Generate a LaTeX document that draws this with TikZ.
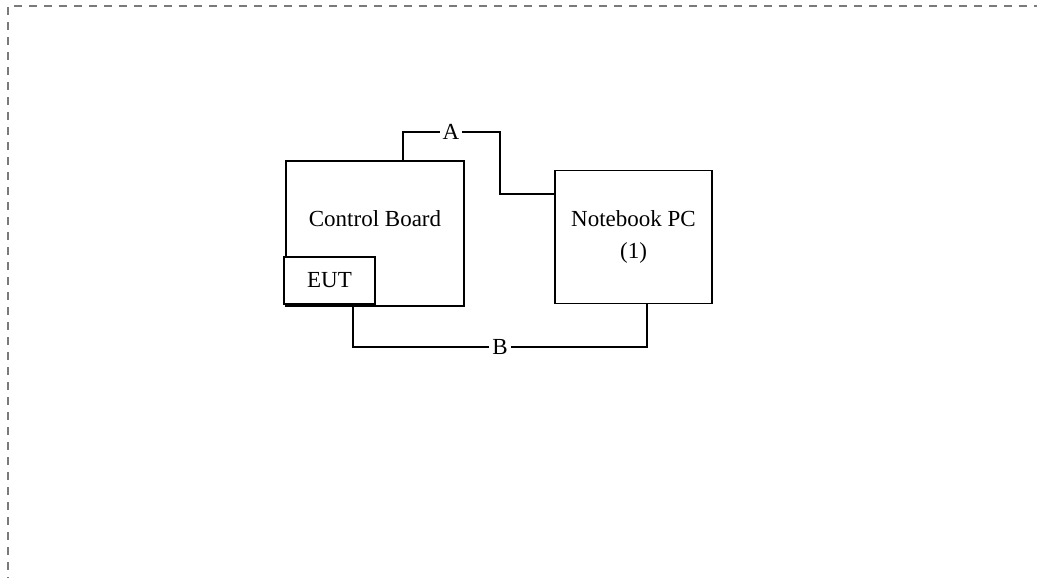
\documentclass[tikz,border=0pt]{standalone}
\usepackage{fontspec}
\setmainfont{Liberation Serif}
\usetikzlibrary{positioning}
\definecolor{framegray}{HTML}{7A7A7A}
\tikzset{
  unitbox/.style={draw,line width=1.8pt,fill=white,inner sep=0pt,align=center,font=\fontsize{23}{32}\selectfont},
  wire/.style={line width=1.8pt},
  cablelabel/.style={fill=white,inner sep=3pt,font=\fontsize{23}{28}\selectfont},
  frame/.style={framegray,line width=1.3pt,dash pattern=on 8pt off 7pt}
}
\begin{document}
\begin{tikzpicture}[x=1pt,y=-1pt]
\useasboundingbox (0,0) rectangle (1037,578);
\draw[frame] (8,600)--(8,6)--(1050,6);
\node[unitbox,minimum width=178,minimum height=145] (cb) at (375,233.5) {};
\node[font=\fontsize{23}{28}\selectfont] (cbtext) at (375,219) {Control Board};
\node[unitbox,minimum width=91,minimum height=47] (eut) at (329.5,280.5) {EUT};
\node[unitbox,minimum width=157,minimum height=133] (nb) at (633.5,237) {Notebook PC\\(1)};
\draw[wire] ([xshift=28pt]cb.north) |- (451,132) node[cablelabel] (la) {A} -| (500,194) -- (nb.west |- 500,194);
\draw[wire] ([xshift=23.5pt]eut.south) |- (500,347) node[cablelabel] (lb) {B} -| ([xshift=13.5pt]nb.south);
\end{tikzpicture}
\end{document}
